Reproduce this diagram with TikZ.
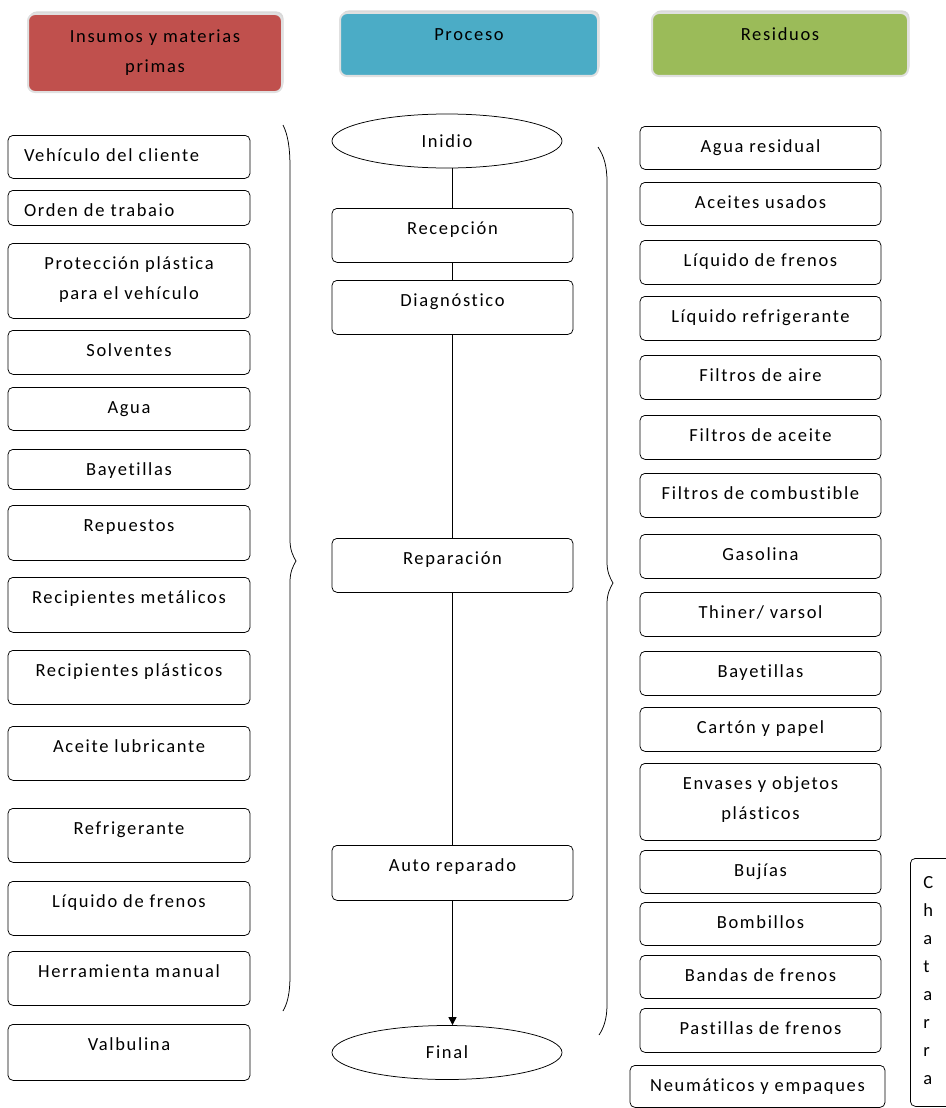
\documentclass[tikz,border=0pt]{standalone}
\usepackage{fontspec}
\setmainfont{Carlito}[LetterSpace=9,Ligatures=NoCommon]
\usetikzlibrary{arrows.meta,shapes.geometric,shadows}

\definecolor{insred}{RGB}{192,80,77}
\definecolor{procblue}{RGB}{75,172,198}
\definecolor{resgreen}{RGB}{155,187,89}

\tikzset{every picture/.style={line width=0.75pt}}
\tikzset{
  head/.style={rounded corners=7pt, draw=black!12, line width=2pt, align=center, inner sep=0pt,
    drop shadow={shadow xshift=1.5pt, shadow yshift=2.5pt, opacity=0.3}},
  box/.style={draw, rounded corners=5pt, anchor=north, align=center, inner xsep=0pt, inner ysep=0pt,
    text height=26pt, minimum width=242pt},
  boxl/.style={box, align=left, text width=210pt, inner xsep=16pt, minimum width=0pt},
  term/.style={draw, ellipse, minimum width=230pt, minimum height=54pt, inner sep=0pt},
}

\begin{document}
\begin{tikzpicture}[x=1pt,y=1pt,yscale=-1,font=\fontsize{18.5}{30}\selectfont]
\useasboundingbox (0,0) rectangle (945,1108);

% Headers
\node [head, fill=insred, minimum width=254pt, minimum height=78pt] (hins) at (155,53) {Insumos y materias\\primas};
\node [head, fill=procblue, minimum width=258pt, minimum height=63pt, text depth=20pt] (hpro) at (469,44.5) {Proceso};
\node [head, fill=resgreen, minimum width=256pt, minimum height=63pt, text depth=20pt] (hres) at (780,44.5) {Residuos};

% Insumos
\node [boxl, text depth=17pt] (ins1) at (129,135) {Vehículo del cliente};
\node [boxl, text depth=9pt] (ins2) at (129,190) {Orden de trabaio};
\node [box, text height=56pt, text depth=19pt] (ins3) at (129,243) {Protección plástica\\para el vehículo};
\node [box, text depth=18pt] (ins4) at (129,330) {Solventes};
\node [box, text depth=17pt] (ins5) at (129,387) {Agua};
\node [box, text depth=14pt] (ins6) at (129,449) {Bayetillas};
\node [box, text depth=29pt] (ins7) at (129,505) {Repuestos};
\node [box, text depth=29pt] (ins8) at (129,577) {Recipientes metálicos};
\node [box, text depth=28pt] (ins9) at (129,650) {Recipientes plásticos};
\node [box, text depth=28pt] (ins10) at (129,726) {Aceite lubricante};
\node [box, text depth=28pt] (ins11) at (129,808) {Refrigerante};
\node [box, text depth=28pt] (ins12) at (129,881) {Líquido de frenos};
\node [box, text depth=28pt] (ins13) at (129,951) {Herramienta manual};
\node [box, text depth=30pt] (ins14) at (129,1024) {Valbulina};

% Proceso
\node [term] (ini) at (447,141) {Inidio};
\node [box, minimum width=241pt, text depth=28pt] (rec) at (452.5,208) {Recepción};
\node [box, minimum width=241pt, text depth=28pt] (diag) at (452.5,280) {Diagnóstico};
\node [box, minimum width=241pt, text depth=28pt] (rep) at (452.5,538) {Reparación};
\node [box, minimum width=241pt, text depth=29pt] (auto) at (452.5,845) {Auto reparado};
\node [term] (fin) at (447,1052.5) {Final};

\draw (rec.north |- ini.south) -- (rec.north);
\draw (rec) -- (diag);
\draw (diag) -- (rep);
\draw (rep) -- (auto);
\draw [-{Triangle[length=8pt,width=8pt]}] (auto) -- (auto.south |- fin.north);

% Residuos
\node [box, minimum width=241pt, text depth=17pt] (res1) at (760.5,126) {Agua residual};
\node [box, minimum width=241pt, text depth=17pt] (res2) at (760.5,182) {Aceites usados};
\node [box, minimum width=241pt, text depth=18pt] (res3) at (760.5,240) {Líquido de frenos};
\node [box, minimum width=241pt, text depth=18pt] (res4) at (760.5,296) {Líquido refrigerante};
\node [box, minimum width=241pt, text depth=18pt] (res5) at (760.5,355) {Filtros de aire};
\node [box, minimum width=241pt, text depth=18pt] (res6) at (760.5,415) {Filtros de aceite};
\node [box, minimum width=241pt, text depth=18pt] (res7) at (760.5,473) {Filtros de combustible};
\node [box, minimum width=241pt, text depth=18pt] (res8) at (760.5,534) {Gasolina};
\node [box, minimum width=241pt, text depth=18pt] (res9) at (760.5,592) {Thiner/ varsol};
\node [box, minimum width=241pt, text depth=18pt] (res10) at (760.5,651) {Bayetillas};
\node [box, minimum width=241pt, text depth=18pt] (res11) at (760.5,707) {Cartón y papel};
\node [box, minimum width=241pt, text height=56pt, text depth=21pt] (res12) at (760.5,763) {Envases y objetos\\plásticos};
\node [box, minimum width=241pt, text depth=17pt] (res13) at (760.5,850) {Bujías};
\node [box, minimum width=241pt, text depth=17pt] (res14) at (760.5,902) {Bombillos};
\node [box, minimum width=241pt, text depth=17pt] (res15) at (760.5,955) {Bandas de frenos};
\node [box, minimum width=241pt, text depth=18pt] (res16) at (760.5,1008) {Pastillas de frenos};
\node [box, minimum width=255pt, text depth=16pt] (res17) at (757.5,1065) {Neumáticos y empaques};
\node [box, anchor=north west, align=left, text width=44pt, inner xsep=13pt, minimum width=0pt,
  text height=30pt, text depth=218pt, font=\fontsize{18.5}{28}\selectfont] (chat) at (910,858) {C\\h\\a\\t\\a\\r\\r\\a};

% Braces
\draw (283,125) .. controls (288,135) and (290,148) .. (290,168) -- (290,540) .. controls (290,550) and (293,556) .. (296,561) .. controls (293,566) and (290,572) .. (290,582) -- (290,975) .. controls (290,995) and (287,1004) .. (283,1011);
\draw (598,147) .. controls (604,156) and (607,166) .. (607,182) -- (607,562) .. controls (607,572) and (610,578) .. (613,583) .. controls (610,588) and (607,594) .. (607,604) -- (607,1005) .. controls (607,1020) and (603,1029) .. (599,1035);

\end{tikzpicture}
\end{document}
